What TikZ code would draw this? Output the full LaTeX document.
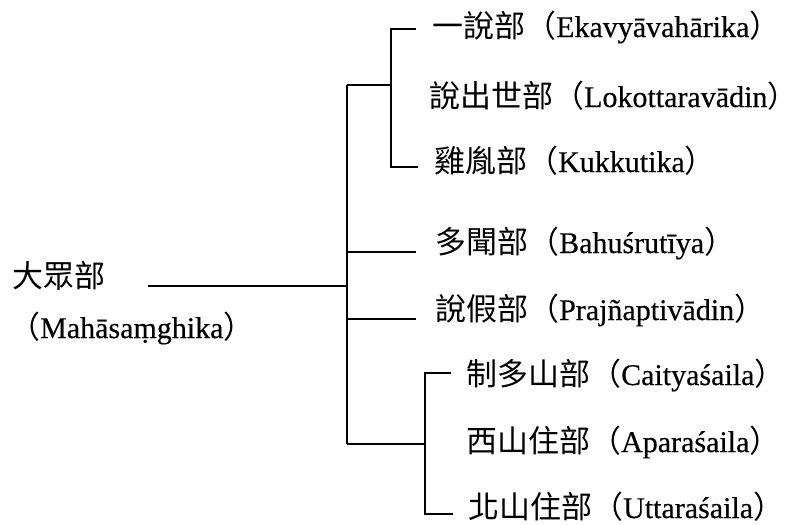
\documentclass[tikz,border=0pt]{standalone}
\usepackage{fontspec}
\setmainfont{Liberation Serif}[FakeBold=0.35]
\newfontfamily\cjk{Noto Sans CJK TC}[Scale=1.033]
\newcommand{\rpar}{{\cjk\makebox[0.5em][l]{）}}}
\begin{document}
\begin{tikzpicture}[x=1pt,y=-1pt,
  lbl/.style={anchor=base west,inner sep=0pt,font=\fontsize{30}{36}\selectfont},
  ln/.style={line width=1.7pt,line cap=butt}]
\useasboundingbox[fill=white] (0,0) rectangle (793,525);
% labels
\node[lbl] (root) at (12,287) {\cjk 大眾部};
\node[lbl] (rootb) at (9,338) {{\cjk （}Mahāsaṃghika\rpar};
\node[lbl] (n1) at (432,37) {{\cjk 一說部（}Ekavyāvahārika\rpar};
\node[lbl] (n2) at (429,107) {{\cjk 說出世部（}Lokottaravādin{\fontsize{29}{36}\selectfont\rpar}};
\node[lbl] (n3) at (434,172) {{\cjk 雞胤部（}Kukkutika\rpar};
\node[lbl] (n4) at (435,253) {{\cjk 多聞部（}Bahuśrutīya\rpar};
\node[lbl] (n5) at (435,320) {{\cjk 說假部（}Prajñaptivādin\rpar};
\node[lbl] (n6) at (466,385) {{\cjk 制多山部（}Caityaśaila\rpar};
\node[lbl] (n7) at (466,452) {{\cjk 西山住部（}Aparaśaila\rpar};
\node[lbl] (n8) at (468,518) {{\cjk 北山住部（}Uttaraśaila\rpar};
% junction coordinates
\coordinate (r0) at (148,286);
\coordinate (tr) at (347,286);
\coordinate (ttop) at (347,85);
\coordinate (tbot) at (347,444);
\coordinate (b1) at (390.7,85);
\coordinate (b1t) at (390.7,29.3);
\coordinate (b1b) at (390.7,167.3);
\coordinate (e1) at (416,29.3);
\coordinate (e3) at (418,167.3);
\coordinate (j4) at (347,251.7);
\coordinate (e4) at (416,251.7);
\coordinate (j5) at (347,319.3);
\coordinate (e5) at (416,319.3);
\coordinate (b2) at (425,444);
\coordinate (b2t) at (425,372.7);
\coordinate (b2b) at (425,514);
\coordinate (e6) at (450.7,372.7);
\coordinate (e8) at (452.7,514);
% connectors
\draw[ln] (r0) -- (tr);
\draw[ln] (ttop) -- (tbot);
\draw[ln] (ttop) -- (b1);
\draw[ln] (e1) -- (b1t) -- (b1b) -- (e3);
\draw[ln] (j4) -- (e4);
\draw[ln] (j5) -- (e5);
\draw[ln] (tbot) -- (b2);
\draw[ln] (e6) -- (b2t) -- (b2b) -- (e8);
\end{tikzpicture}
\end{document}
